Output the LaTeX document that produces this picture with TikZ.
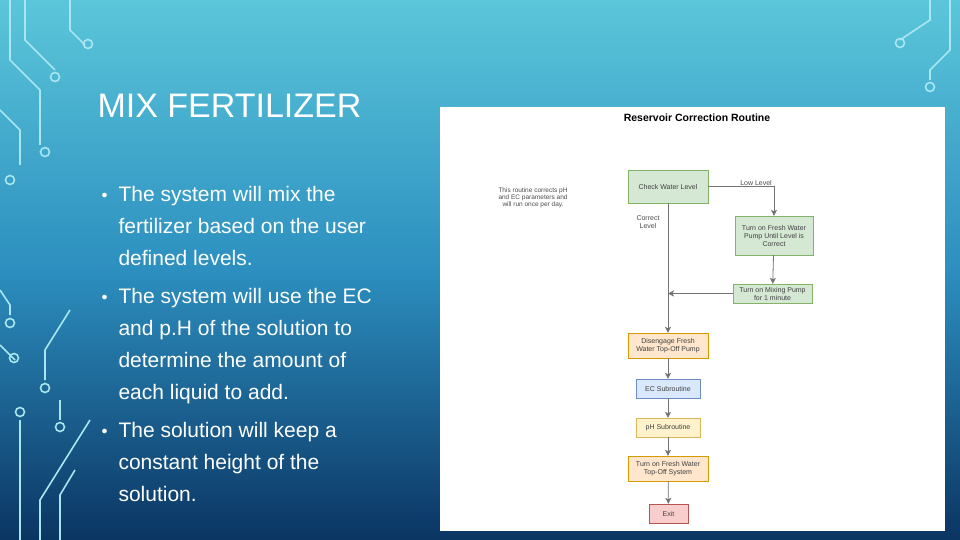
\documentclass[tikz,border=0pt]{standalone}
\usepackage{fontspec}
\setmainfont{Liberation Sans}
\usetikzlibrary{arrows.meta}
\definecolor{bgtop}{HTML}{5BC6DA}
\definecolor{bgmid}{HTML}{2C8FBF}
\definecolor{bgbot}{HTML}{0B3563}
\definecolor{circ}{HTML}{A8E6F0}
\tikzset{
  x=1pt,y=-1pt,
  box/.style={draw, rectangle, minimum width=#1, align=center, font=\fontsize{7}{8}\selectfont, text=black!75, inner sep=1pt},
  green/.style={fill={rgb,255:red,213;green,232;blue,212}, draw={rgb,255:red,130;green,179;blue,102}},
  orange/.style={fill={rgb,255:red,255;green,230;blue,204}, draw={rgb,255:red,215;green,155;blue,0}},
  blue/.style={fill={rgb,255:red,218;green,232;blue,252}, draw={rgb,255:red,108;green,142;blue,191}},
  yellow/.style={fill={rgb,255:red,255;green,242;blue,204}, draw={rgb,255:red,214;green,182;blue,86}},
  red/.style={fill={rgb,255:red,248;green,206;blue,204}, draw={rgb,255:red,184;green,84;blue,80}},
  conn/.style={draw=black!55, line width=0.8pt, -{Stealth[length=6pt,width=6pt,inset=1.5pt]}},
  lbl/.style={font=\fontsize{7}{8}\selectfont, text=black!70, align=center},
  trace/.style={draw=circ, line width=1.6pt},
  pad/.style={draw=circ, line width=1.6pt, circle, minimum size=9pt, inner sep=0pt}
}
\begin{document}
\begin{tikzpicture}
\useasboundingbox (0,0) rectangle (960,540);
\shade[top color=bgtop, bottom color=bgbot, middle color=bgmid] (0,0) rectangle (960,540);
% circuit decorations left
\draw[trace] (10,0) -- (10,60) -- (40,90) -- (40,145);
\node[pad] (p1) at (45,152) {};
\draw[trace] (25,0) -- (25,40) -- (55,70);
\node[pad] (p2) at (55,77) {};
\draw[trace] (0,110) -- (20,130) -- (20,165);
\node[pad] (p3) at (10,180) {};
\draw[trace] (70,0) -- (70,30) -- (85,45);
\node[pad] (p4) at (88,44) {};
\draw[trace] (0,290) -- (10,305) -- (10,315);
\node[pad] (p5) at (10,323) {};
\draw[trace] (0,345) -- (15,360);
\node[pad] (p6) at (14,358) {};
\draw[trace] (70,310) -- (45,350) -- (45,380);
\node[pad] (p7) at (45,388) {};
\draw[trace] (60,400) -- (60,420);
\node[pad] (p8) at (60,427) {};
\draw[trace] (90,420) -- (40,500) -- (40,540);
\draw[trace] (75,470) -- (60,495) -- (60,540);
\draw[trace] (20,420) -- (20,540);
\node[pad] (p9) at (20,412) {};
% right
\draw[trace] (930,0) -- (930,20) -- (900,40);
\node[pad] (p10) at (900,43) {};
\draw[trace] (950,0) -- (950,50) -- (930,70) -- (930,80);
\node[pad] (p11) at (930,87) {};
% text
\node[anchor=west, text=white, font=\fontsize{34}{38}\selectfont] (title) at (94,106) {MIX FERTILIZER};
\node[anchor=north west, text=white, align=left, font=\fontsize{21}{32}\selectfont] (bul) at (98,183) {%
\makebox[17pt][l]{\fontsize{12}{12}\selectfont\raisebox{3pt}{$\bullet$}}The system will mix the\\
\hspace*{17pt}fertilizer based on the user\\
\hspace*{17pt}defined levels.\\[6pt]
\makebox[17pt][l]{\fontsize{12}{12}\selectfont\raisebox{3pt}{$\bullet$}}The system will use the EC\\
\hspace*{17pt}and p.H of the solution to\\
\hspace*{17pt}determine the amount of\\
\hspace*{17pt}each liquid to add.\\[6pt]
\makebox[17pt][l]{\fontsize{12}{12}\selectfont\raisebox{3pt}{$\bullet$}}The solution will keep a\\
\hspace*{17pt}constant height of the\\
\hspace*{17pt}solution.};
% panel
\fill[white] (440,107) rectangle (945,531);
\node[font=\bfseries\fontsize{10.5}{12}\selectfont] (ptitle) at (697,118) {Reservoir Correction Routine};
\node[lbl, font=\fontsize{6.5}{7}\selectfont] (note) at (533,198) {This routine corrects pH\\and EC parameters and\\will run once per day.};
\node[box=80pt, green, minimum height=33pt] (check) at (668,186.5) {Check Water Level};
\node[box=78pt, green, minimum height=39pt] (fresh) at (774,235.5) {Turn on Fresh Water\\Pump Until Level is\\Correct};
\node[box=79pt, green, minimum height=19pt] (mix) at (772.5,293.5) {Turn on Mixing Pump\\for 1 minute};
\node[box=80pt, orange, minimum height=25pt] (dis) at (668,345.5) {Disengage Fresh\\Water Top-Off Pump};
\node[box=64pt, blue, minimum height=19pt] (ec) at (668,388.5) {EC Subroutine};
\node[box=64pt, yellow, minimum height=19pt] (ph) at (668,427.5) {pH Subroutine};
\node[box=80pt, orange, minimum height=25pt] (top) at (668,468.5) {Turn on Fresh Water\\Top-Off System};
\node[box=39pt, red, minimum height=19pt] (exit) at (668.5,513.5) {Exit};
\node[lbl] (low) at (756,183) {Low Level};
\node[lbl] (corr) at (648,222) {Correct\\Level};
\coordinate (join) at (668,293.5);
\draw[conn] (check.east) -| (fresh.north);
\draw[conn] (fresh) -- (mix);
\draw[conn] (mix.west) -- (join);
\draw[conn] (check) -- (dis);
\draw[conn] (dis) -- (ec);
\draw[conn] (ec) -- (ph);
\draw[conn] (ph) -- (top);
\draw[conn] (top) -- (exit);
\end{tikzpicture}
\end{document}
